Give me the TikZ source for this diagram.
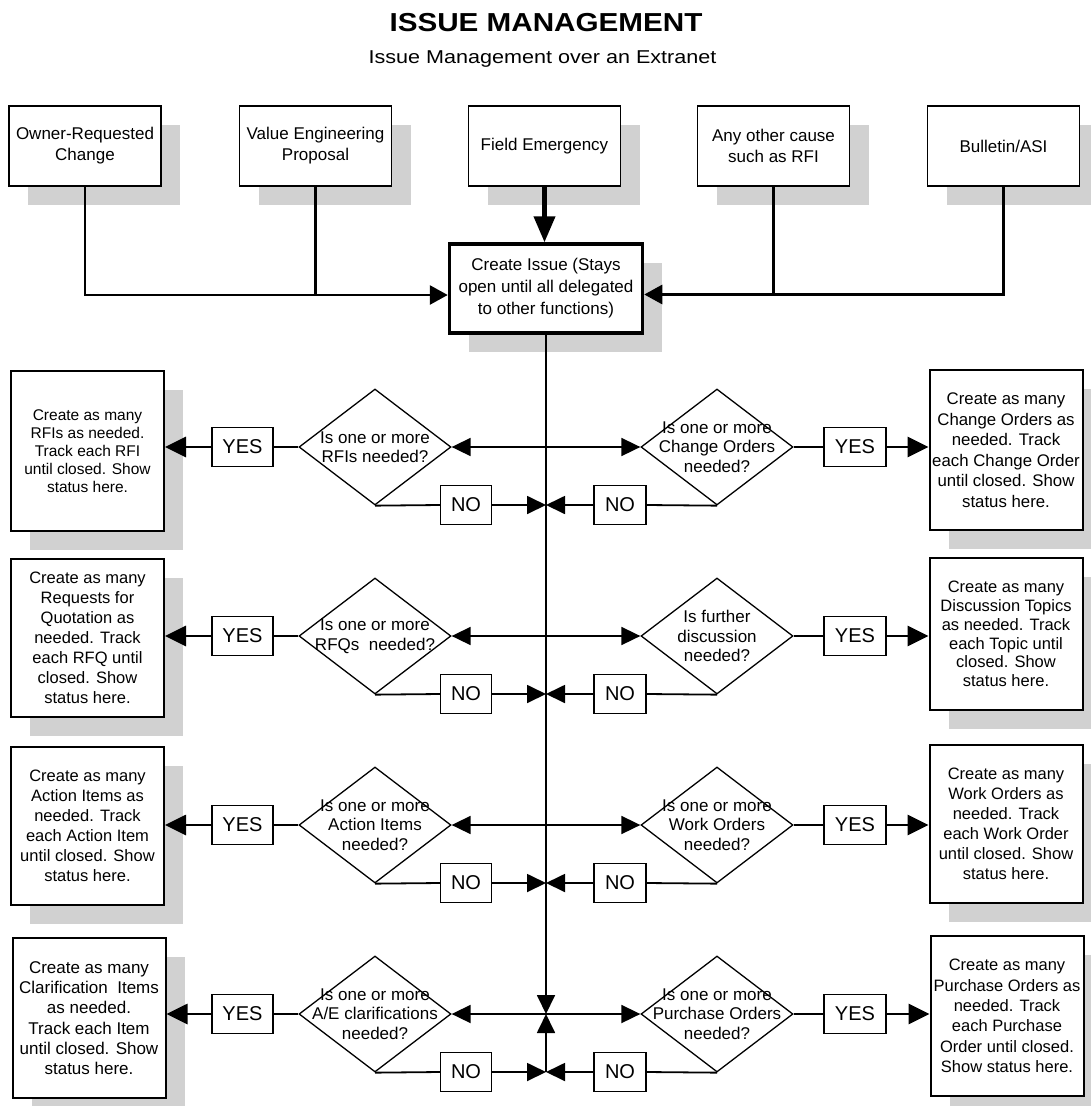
\documentclass[tikz,border=0pt]{standalone}
\usepackage{graphicx}
\usepackage{fontspec}
\setmainfont{Liberation Sans}
\usetikzlibrary{shapes.geometric,arrows.meta,shadows}
\definecolor{shadowgray}{gray}{0.82}

\tikzset{
  shadowed/.style={general shadow={fill=shadowgray, shadow xshift=19pt, shadow yshift=-19pt}},
  topbox/.style={draw, fill=white, line width=1.5pt, align=center, inner sep=0pt,
    minimum width=152pt, minimum height=80pt, shadowed,
    font=\fontsize{17}{21}\selectfont},
  issuebox/.style={draw, fill=white, line width=3.5pt, align=center, inner sep=0pt,
    minimum width=193pt, minimum height=89pt, shadowed,
    font=\fontsize{17}{22}\selectfont},
  outbox/.style={draw, fill=white, line width=2pt, align=center, inner sep=0pt,
    minimum width=153pt, minimum height=158pt, shadowed},
  sidetext/.style={font=\fontsize{16.5}{20}\selectfont},
  query/.style={draw, diamond, line width=1.3pt, inner sep=0pt,
    minimum width=152pt, minimum height=116pt},
  querytext/.style={align=center, inner sep=0pt, font=\fontsize{17}{19.5}\selectfont},
  tag/.style={draw, fill=white, line width=1.3pt, inner sep=0pt, minimum height=39pt,
    font=\fontsize{20}{24}\selectfont},
  wire/.style={line width=1.8pt},
  feed/.style={line width=2.8pt},
  bigfeed/.style={line width=4.2pt, -{Triangle[length=26pt,width=21pt]}},
  arr/.style={-{Triangle[length=19pt,width=18pt]}},
  arrF/.style={-{Triangle[length=18pt,width=19pt]}},
  arrboth/.style={{Triangle[length=19pt,width=18pt]}-{Triangle[length=19pt,width=18pt]}},
  yesfeed/.style={line width=2.8pt, -{Triangle[length=21pt,width=20pt]}}
}

\begin{document}
\begin{tikzpicture}[x=1pt, y=-1pt]
  \fill[white] (0,0) rectangle (1090,1106);
  \useasboundingbox (0,0) rectangle (1090,1106);

  % Heading
  \node[anchor=base, inner sep=0pt] (title) at (546,31.7)
    {\fontsize{26}{30}\selectfont\bfseries\scalebox{1.14}[1]{ISSUE MANAGEMENT}};
  \node[anchor=base, inner sep=0pt] (subtitle) at (542.5,63.3)
    {\fontsize{18.6}{22}\selectfont\scalebox{1.16}[1]{Issue Management over an Extranet}};

  % Sources of an issue
  \node[topbox] (t1) at (85,146)     {Owner-Requested\\Change};
  \node[topbox] (t2) at (315.5,146)  {Value Engineering\\Proposal};
  \node[topbox] (t3) at (544.5,146)  {Field Emergency};
  \node[topbox] (t4) at (773.5,146)  {Any other cause\\such as RFI};
  \node[topbox] (t5) at (1003.5,146) {Bulletin/ASI};

  % The issue itself
  \node[issuebox] (ci) at (546,288.5)
    {Create Issue (Stays\\open until all delegated\\to other functions)};

  % Decision rows
  \foreach \i/\r in {1/447,2/636,3/825,4/1014} {
    \node[query] (dl\i) at (375,\r) {};
    \node[query] (dr\i) at (717,\r) {};
    \node[tag, minimum width=61pt] (yl\i) at (242.5,\r) {YES};
    \node[tag, minimum width=62pt] (yr\i) at (855,\r) {YES};
    \node[tag, minimum width=51pt] (nl\i) at (466,\r+58) {NO};
    \node[tag, minimum width=52pt] (nr\i) at (620,\r+58) {NO};
    \coordinate (h\i) at (546,\r);
    \coordinate (k\i) at (546,\r+58);
  }

  \node[querytext] (ql1) at (dl1) {Is one or more\\RFIs needed?};
  \node[querytext] (qr1) at (dr1) {Is one or more\\Change Orders\\needed?};
  \node[querytext] (ql2) at (dl2) {Is one or more\\RFQs\ \ needed?};
  \node[querytext] (qr2) at (dr2) {Is further\\discussion\\needed?};
  \node[querytext] (ql3) at (dl3) {Is one or more\\Action Items\\needed?};
  \node[querytext] (qr3) at (dr3) {Is one or more\\Work Orders\\needed?};
  \node[querytext] (ql4) at (dl4) {Is one or more\\A/E clarifications\\needed?};
  \node[querytext] (qr4) at (dr4) {Is one or more\\Purchase Orders\\needed?};

  % Outcome boxes
  \node[outbox, minimum height=160pt, font=\fontsize{15.5}{18}\selectfont] (l1) at (87.5,451)
    {Create as many\\RFIs as needed.\\Track each RFI\\until closed. Show\\status here.};
  \node[outbox, minimum height=160pt, font=\fontsize{16.8}{20.5}\selectfont] (r1) at (1006,450)
    {Create as many\\Change Orders as\\needed. Track\\each Change Order\\until closed. Show\\status here.};
  \node[outbox, sidetext] (l2) at (87.5,638)
    {Create as many\\Requests for\\Quotation as\\needed. Track\\each RFQ until\\closed. Show\\status here.};
  \node[outbox, minimum height=152pt, font=\fontsize{16.5}{18.7}\selectfont] (r2) at (1006,634)
    {Create as many\\Discussion Topics\\as needed. Track\\each Topic until\\closed. Show\\status here.};
  \node[outbox, sidetext] (l3) at (87.5,826)
    {Create as many\\Action Items as\\needed. Track\\each Action Item\\until closed. Show\\status here.};
  \node[outbox, sidetext] (r3) at (1006,824)
    {Create as many\\Work Orders as\\needed. Track\\each Work Order\\until closed. Show\\status here.};
  \node[outbox, minimum height=160pt, font=\fontsize{17}{20.3}\selectfont] (l4) at (89,1018)
    {Create as many\\Clarification\ \ Items\\as needed.\\Track each Item\\until closed. Show\\status here.};
  \node[outbox, minimum height=160pt, font=\fontsize{16.5}{20.3}\selectfont] (r4) at (1007,1016)
    {Create as many\\Purchase Orders as\\needed. Track\\each Purchase\\Order until closed.\\Show status here.};

  % Feeds into the issue
  \path ([yshift=-6.5pt]ci.west) coordinate (jl);
  \path ([yshift=-6pt]ci.east) coordinate (jr);
  \draw[feed, arrF] (t1.south) |- (jl);
  \draw[feed] (t2.south) -- (t2.south |- jl);
  \draw[bigfeed] (t3.south) -- (t3.south |- ci.north);
  \draw[feed, arrF] (t5.south) |- (jr);
  \draw[feed] (t4.south) -- (t4.south |- jr);

  % Spine down from the issue
  \draw[wire, arr] (ci.south) -- (h4);
  \draw[wire, arr] (k4) -- (h4);

  % Row connectors
  \foreach \i in {1,...,4} {
    \draw[wire, arrboth] (dl\i.east) -- (dr\i.west);
    \draw[wire] (dl\i.west) -- (yl\i.east);
    \draw[yesfeed] (yl\i.west) -- (yl\i.west -| l\i.east);
    \draw[wire] (dr\i.east) -- (yr\i.west);
    \draw[yesfeed] (yr\i.east) -- (yr\i.east -| r\i.west);
    \draw[wire] (dl\i.south) -- (nl\i.west);
    \draw[wire, arr] (nl\i.east) -- (k\i);
    \draw[wire] (dr\i.south) -- (nr\i.east);
    \draw[wire, arr] (nr\i.west) -- (k\i);
  }
\end{tikzpicture}
\end{document}
